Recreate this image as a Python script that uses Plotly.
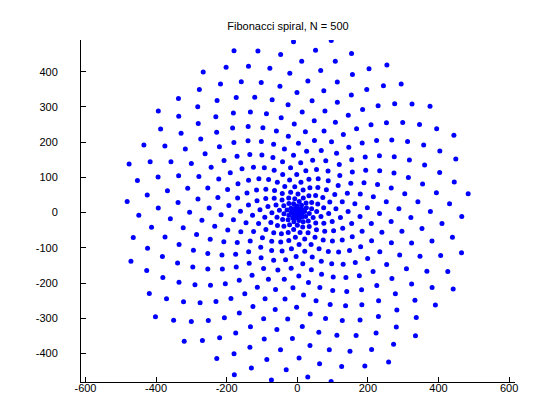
import numpy as np
import plotly.graph_objects as go

N = 500
golden_angle = np.pi * (3 - np.sqrt(5))
k = np.arange(0, N)
radius = k.astype(float)
theta = k * golden_angle
xs = radius * np.cos(theta)
ys = radius * np.sin(theta)

x_ticks = [-600, -400, -200, 0, 200, 400, 600]
x_labels = ["-600", "-400", "-200", "0", "200", "400", "600"]
y_ticks = [-400, -300, -200, -100, 0, 100, 200, 300, 400]
y_labels = ["-400", "-300", "-200", "-100", "0", "100", "200", "300", "400"]

fig = go.Figure(go.Scatter(x=xs, y=ys, mode="markers",
                           marker=dict(symbol="circle", size=5, color="#0000ff", line=dict(width=0))))
fig.update_layout(
    width=560, height=420,
    margin=dict(l=73, r=53, t=32, b=46),
    paper_bgcolor="white", plot_bgcolor="white",
    showlegend=False,
    font=dict(family="Liberation Sans, Arial, sans-serif", size=11, color="black"),
    title=dict(text="Fibonacci spiral, N = 500", x=0.5, xanchor="center", y=1 - 18/420, yanchor="middle",
               font=dict(size=11)),
)
axis_common = dict(showgrid=False, zeroline=False, showline=True, linecolor="black", linewidth=1,
                   ticks="inside", ticklen=5, tickcolor="black", mirror=False)
fig.update_xaxes(range=[-612.7, 616.7], tickvals=x_ticks, ticktext=x_labels, ticklabelstandoff=-4,
                 **axis_common)
fig.update_yaxes(range=[-481, 490], tickvals=y_ticks, ticktext=y_labels, ticklabelstandoff=20,
                 **axis_common)
fig.write_html("out.html")
